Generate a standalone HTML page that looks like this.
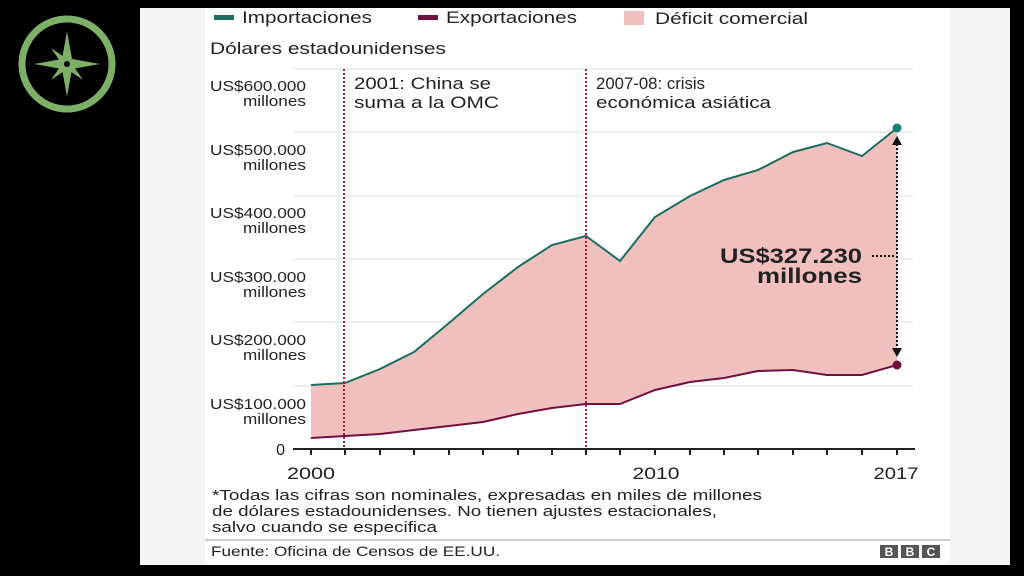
<!DOCTYPE html>
<html><head><meta charset="utf-8"><style>
html,body{margin:0;padding:0;background:#000;width:1024px;height:576px;overflow:hidden;font-family:"Liberation Sans",Arial,sans-serif}
</style></head><body>
<svg width="1024" height="576" viewBox="0 0 1024 576" xmlns="http://www.w3.org/2000/svg" font-family="Liberation Sans, Arial, sans-serif">
<rect width="1024" height="576" fill="#000"/>
<rect x="140" y="8" width="870" height="557" fill="#f4f4f4"/>
<rect x="205" y="8" width="745" height="557" fill="#fff"/>
<!-- compass -->
<g transform="translate(67,64)" fill="#7db066" stroke="#7db066">
<circle r="45" fill="none" stroke-width="7"/>
<polygon points="0,-33 5,-5 0,0 -5,-5" stroke="none"/>
<polygon points="0,33 5,5 0,0 -5,5" stroke="none"/>
<polygon points="-33,0 -5,-5 0,0 -5,5" stroke="none"/>
<polygon points="33,0 5,-5 0,0 5,5" stroke="none"/>
<polygon points="18,-18 3,-3 -3,3" stroke="none"/>
<polygon points="-16,-16 -3,3 3,-3" stroke="none"/>
<polygon points="-16,16 3,3 -3,-3" stroke="none"/>
<polygon points="16,16 -3,3 3,-3" stroke="none"/>
<circle r="3" fill="#000" stroke="none"/>
</g>
<!-- legend -->
<rect x="214" y="15" width="20" height="5" fill="#1a7062"/>
<text x="242" y="23" font-size="17" fill="#222" textLength="130" lengthAdjust="spacingAndGlyphs">Importaciones</text>
<rect x="418" y="15" width="20" height="5" fill="#6e1040"/>
<text x="446" y="23" font-size="17" fill="#222" textLength="131" lengthAdjust="spacingAndGlyphs">Exportaciones</text>
<rect x="624" y="11" width="20" height="14" fill="#f2bfbf"/>
<text x="655" y="24" font-size="17" fill="#222" textLength="153" lengthAdjust="spacingAndGlyphs">Déficit comercial</text>
<text x="210" y="54" font-size="17" fill="#222" textLength="236" lengthAdjust="spacingAndGlyphs">Dólares estadounidenses</text>
<!-- gridlines -->
<g stroke="#ddd" stroke-width="1">
<line x1="293" y1="69" x2="913" y2="69"/>
<line x1="293" y1="132" x2="913" y2="132"/>
<line x1="293" y1="196" x2="913" y2="196"/>
<line x1="293" y1="259" x2="913" y2="259"/>
<line x1="293" y1="322" x2="913" y2="322"/>
<line x1="293" y1="386" x2="913" y2="386"/>
</g>
<g font-size="14.5" fill="#222" text-anchor="end" lengthAdjust="spacingAndGlyphs">
<text x="306" y="91" textLength="96" lengthAdjust="spacingAndGlyphs">US$600.000</text><text x="306" y="106" textLength="63" lengthAdjust="spacingAndGlyphs">millones</text>
<text x="306" y="155" textLength="96" lengthAdjust="spacingAndGlyphs">US$500.000</text><text x="306" y="170" textLength="63" lengthAdjust="spacingAndGlyphs">millones</text>
<text x="306" y="218" textLength="96" lengthAdjust="spacingAndGlyphs">US$400.000</text><text x="306" y="233" textLength="63" lengthAdjust="spacingAndGlyphs">millones</text>
<text x="306" y="282" textLength="96" lengthAdjust="spacingAndGlyphs">US$300.000</text><text x="306" y="297" textLength="63" lengthAdjust="spacingAndGlyphs">millones</text>
<text x="306" y="345" textLength="96" lengthAdjust="spacingAndGlyphs">US$200.000</text><text x="306" y="360" textLength="63" lengthAdjust="spacingAndGlyphs">millones</text>
<text x="306" y="409" textLength="96" lengthAdjust="spacingAndGlyphs">US$100.000</text><text x="306" y="424" textLength="63" lengthAdjust="spacingAndGlyphs">millones</text>
<text x="285" y="455" font-size="16">0</text>
</g>
<!-- area -->
<polygon fill="#f2bfbf" points="311,385 345,383 380,369 414,352 449,323 483,294 518,267 552,245 586,236 620,261 655,217 690,196 724,180 758,170 793,152 827,143 862,156 897,128 897,365 862,375 827,375 793,370 758,371 724,378 690,382 655,390 620,404 586,404 552,408 518,414 483,422 449,426 414,430 380,434 345,436 311,438"/>
<polyline fill="none" stroke="#1a6e60" stroke-width="2" points="311,385 345,383 380,369 414,352 449,323 483,294 518,267 552,245 586,236 620,261 655,217 690,196 724,180 758,170 793,152 827,143 862,156 897,128"/>
<polyline fill="none" stroke="#6e1040" stroke-width="2" points="311,438 345,436 380,434 414,430 449,426 483,422 518,414 552,408 586,404 620,404 655,390 690,382 724,378 758,371 793,370 827,375 862,375 897,365"/>
<circle cx="897" cy="128" r="4.5" fill="#1a7f78"/>
<circle cx="897" cy="365" r="4.5" fill="#6e1040"/>
<!-- dashed verticals -->
<line x1="344" y1="69" x2="344" y2="449" stroke="#b01c2e" stroke-width="2" stroke-dasharray="2,2"/>
<line x1="586" y1="69" x2="586" y2="449" stroke="#b01c2e" stroke-width="2" stroke-dasharray="2,2"/>
<g font-size="17" fill="#222">
<text x="354" y="89" textLength="137" lengthAdjust="spacingAndGlyphs">2001: China se</text><text x="354" y="108" textLength="145" lengthAdjust="spacingAndGlyphs">suma a la OMC</text>
<text x="596" y="89" textLength="109" lengthAdjust="spacingAndGlyphs">2007-08: crisis</text><text x="596" y="108" textLength="175" lengthAdjust="spacingAndGlyphs">económica asiática</text>
</g>
<!-- arrow -->
<line x1="897" y1="144" x2="897" y2="350" stroke="#111" stroke-width="2" stroke-dasharray="2,2"/>
<polygon points="897,136 892,145 902,145" fill="#111"/>
<polygon points="897,357 892,348 902,348" fill="#111"/>
<line x1="872" y1="256" x2="895" y2="256" stroke="#111" stroke-width="2" stroke-dasharray="2,2"/>
<g font-size="21" font-weight="bold" fill="#222" text-anchor="end">
<text x="862" y="263" textLength="142" lengthAdjust="spacingAndGlyphs">US$327.230</text><text x="862" y="283" textLength="105" lengthAdjust="spacingAndGlyphs">millones</text>
</g>
<!-- axis -->
<line x1="293" y1="449" x2="915" y2="449" stroke="#222" stroke-width="2"/>
<g stroke="#222" stroke-width="2">
<line x1="311" y1="449" x2="311" y2="455"/><line x1="345" y1="449" x2="345" y2="455"/><line x1="380" y1="449" x2="380" y2="455"/><line x1="414" y1="449" x2="414" y2="455"/><line x1="449" y1="449" x2="449" y2="455"/><line x1="483" y1="449" x2="483" y2="455"/><line x1="518" y1="449" x2="518" y2="455"/><line x1="552" y1="449" x2="552" y2="455"/><line x1="586" y1="449" x2="586" y2="455"/><line x1="620" y1="449" x2="620" y2="455"/><line x1="655" y1="449" x2="655" y2="455"/><line x1="690" y1="449" x2="690" y2="455"/><line x1="724" y1="449" x2="724" y2="455"/><line x1="758" y1="449" x2="758" y2="455"/><line x1="793" y1="449" x2="793" y2="455"/><line x1="827" y1="449" x2="827" y2="455"/><line x1="862" y1="449" x2="862" y2="455"/><line x1="897" y1="449" x2="897" y2="455"/>
</g>
<g font-size="17" fill="#222" text-anchor="middle">
<text x="311" y="479" textLength="48" lengthAdjust="spacingAndGlyphs">2000</text><text x="656" y="479" textLength="47" lengthAdjust="spacingAndGlyphs">2010</text><text x="896" y="479" textLength="45" lengthAdjust="spacingAndGlyphs">2017</text>
</g>
<g font-size="15" fill="#222">
<text x="212" y="500" textLength="550" lengthAdjust="spacingAndGlyphs">*Todas las cifras son nominales, expresadas en miles de millones</text>
<text x="212" y="516" textLength="505" lengthAdjust="spacingAndGlyphs">de dólares estadounidenses. No tienen ajustes estacionales,</text>
<text x="212" y="532" textLength="225" lengthAdjust="spacingAndGlyphs">salvo cuando se especifica</text>
</g>
<line x1="205" y1="540" x2="950" y2="540" stroke="#999" stroke-width="1"/>
<text x="211" y="556" font-size="14" fill="#222" textLength="289" lengthAdjust="spacingAndGlyphs">Fuente: Oficina de Censos de EE.UU.</text>
<g font-size="12" font-weight="bold" fill="#fff" text-anchor="middle">
<rect x="880" y="545" width="18" height="13" fill="#555"/><text x="889" y="556">B</text>
<rect x="901" y="545" width="18" height="13" fill="#555"/><text x="910" y="556">B</text>
<rect x="922" y="545" width="18" height="13" fill="#555"/><text x="931" y="556">C</text>
</g>
</svg>
</body></html>
